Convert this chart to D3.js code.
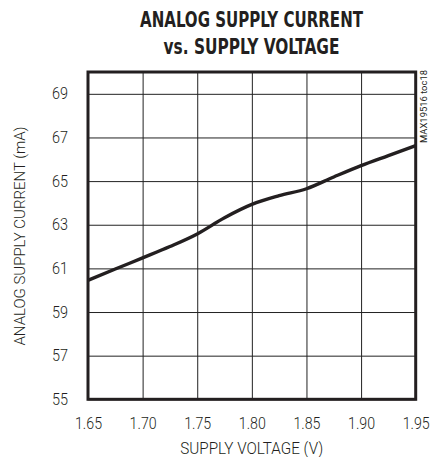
<!DOCTYPE html>
<html><head><meta charset="utf-8">
<script src="https://cdn.jsdelivr.net/npm/d3@7"></script>
<style>
body{margin:0;background:#fff;}
svg{display:block;}
</style></head>
<body><svg id="c" width="437" height="457"></svg>
<script>
const titleLines = ["ANALOG SUPPLY CURRENT", "vs. SUPPLY VOLTAGE"];
const xLabel = "SUPPLY VOLTAGE (V)";
const yLabel = "ANALOG SUPPLY CURRENT (mA)";
const sideNote = "MAX19516 toc18";
const xTicks = [1.65, 1.70, 1.75, 1.80, 1.85, 1.90, 1.95];
const yTicks = [55, 57, 59, 61, 63, 65, 67, 69];
const voltage = [1.65, 1.675, 1.70, 1.725, 1.75, 1.775, 1.80, 1.825, 1.85, 1.875, 1.90, 1.925, 1.95];
const current = [60.45, 60.97, 61.48, 62.0, 62.58, 63.32, 63.93, 64.33, 64.65, 65.19, 65.71, 66.17, 66.63];

const svg = d3.select("#c");
const L = 88, R = 415.7, T = 72, B = 399.3;
const x = d3.scaleLinear().domain([1.65, 1.95]).range([L, R]);
const y = d3.scaleLinear().domain([55, 70]).range([B, T]);
const thinFont = "Roboto,'Liberation Sans',sans-serif";
const boldFont = "'DejaVu Sans Condensed','DejaVu Sans',sans-serif";

// gridlines + tick labels
svg.append("g").attr("transform", `translate(0,${B})`)
  .call(d3.axisBottom(x).tickValues(xTicks).tickSize(-(B - T)).tickFormat(d3.format(".2f")).tickPadding(18))
  .call(g => g.select(".domain").remove())
  .call(g => g.selectAll("line").attr("stroke", "#222").attr("stroke-width", 1))
  .call(g => g.selectAll("text").attr("font-family", thinFont).attr("font-weight", 300).attr("font-size", 16)
      .attr("fill", "#231f20").attr("dy", "0.71em")
      .attr("textLength", 27).attr("lengthAdjust", "spacingAndGlyphs"));

svg.append("g").attr("transform", `translate(${L},0)`)
  .call(d3.axisLeft(y).tickValues(yTicks).tickSize(-(R - L)).tickFormat(d3.format("d")).tickPadding(20))
  .call(g => g.select(".domain").remove())
  .call(g => g.selectAll("line").attr("stroke", "#222").attr("stroke-width", 1))
  .call(g => g.selectAll("text").attr("font-family", thinFont).attr("font-weight", 300).attr("font-size", 16)
      .attr("fill", "#231f20")
      .attr("textLength", 16).attr("lengthAdjust", "spacingAndGlyphs"));

// curve
const line = d3.line().x((d, i) => x(voltage[i])).y(d => y(d)).curve(d3.curveMonotoneX);
svg.append("path").datum(current).attr("d", line)
  .attr("fill", "none").attr("stroke", "#231f20").attr("stroke-width", 3.4)
  .attr("stroke-linejoin", "round").attr("stroke-linecap", "butt");

// frame
svg.append("rect").attr("x", L).attr("y", T).attr("width", R - L).attr("height", B - T)
  .attr("fill", "none").attr("stroke", "#231f20").attr("stroke-width", 3);

// titles
const titleW = [223, 176];
titleLines.forEach((t, i) => {
  svg.append("text").attr("x", 251.5).attr("y", 27 + i * 26.5)
    .attr("text-anchor", "middle").attr("font-family", boldFont).attr("font-weight", "bold")
    .attr("font-size", 21.5).attr("fill", "#231f20")
    .attr("textLength", titleW[i]).attr("lengthAdjust", "spacingAndGlyphs").text(t);
});

svg.append("text").attr("x", 251.7).attr("y", 453.5)
  .attr("text-anchor", "middle").attr("font-family", thinFont).attr("font-weight", 300).attr("font-size", 17)
  .attr("fill", "#231f20").attr("textLength", 143).attr("lengthAdjust", "spacingAndGlyphs").text(xLabel);

svg.append("text").attr("transform", "translate(25,236) rotate(-90)")
  .attr("text-anchor", "middle").attr("font-family", thinFont).attr("font-weight", 300).attr("font-size", 15.5)
  .attr("fill", "#231f20").attr("textLength", 219).attr("lengthAdjust", "spacingAndGlyphs").text(yLabel);

svg.append("text").attr("transform", "translate(426.5,143) rotate(-90)")
  .attr("text-anchor", "start").attr("font-family", thinFont).attr("font-size", 9.5)
  .attr("fill", "#231f20").attr("textLength", 73).attr("lengthAdjust", "spacingAndGlyphs").text(sideNote);
</script></body></html>
